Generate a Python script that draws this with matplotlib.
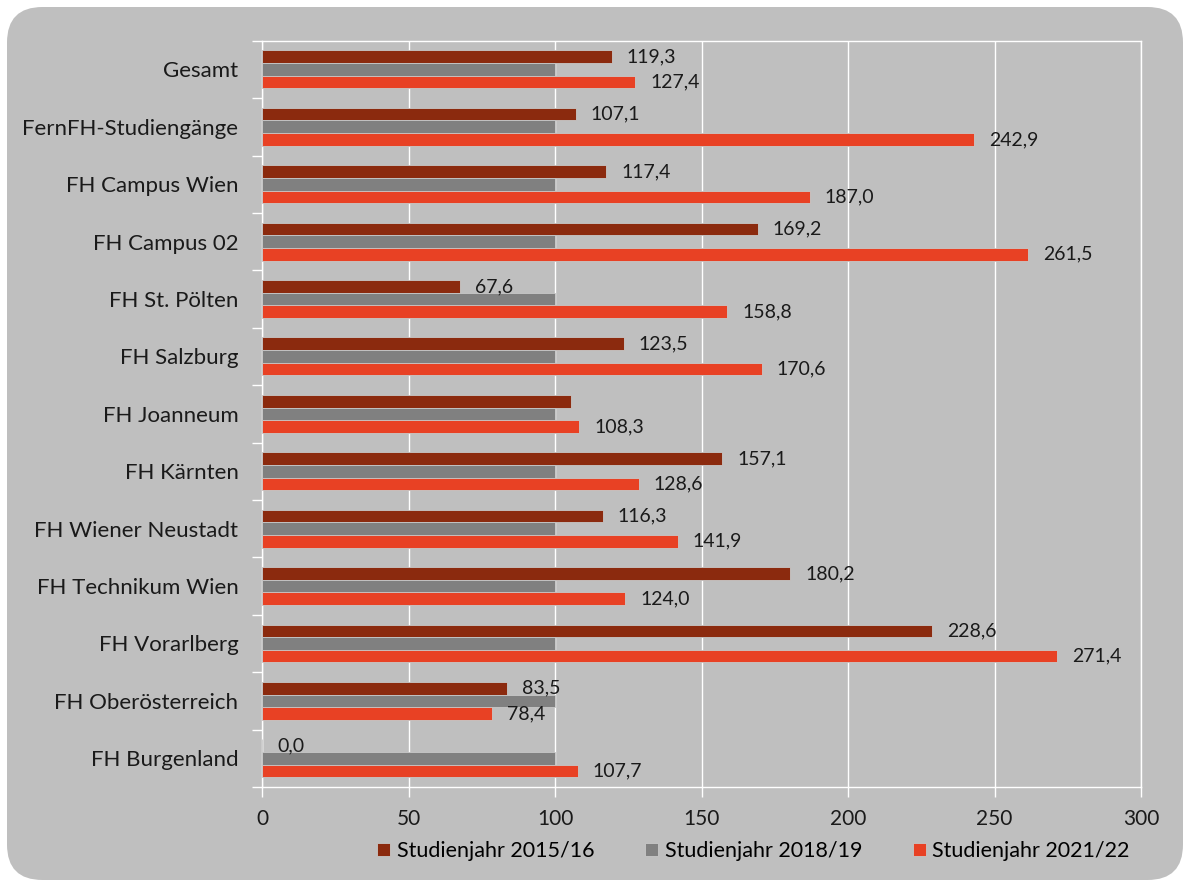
import matplotlib
matplotlib.use("Agg")
import matplotlib.pyplot as plt
from matplotlib.patches import FancyBboxPatch
from matplotlib.ticker import FixedLocator
import numpy as np

categories = ["Gesamt", "FernFH-Studiengänge", "FH Campus Wien", "FH Campus 02",
              "FH St. Pölten", "FH Salzburg", "FH Joanneum", "FH Kärnten",
              "FH Wiener Neustadt", "FH Technikum Wien", "FH Vorarlberg",
              "FH Oberösterreich", "FH Burgenland"]
series_names = ["Studienjahr 2015/16", "Studienjahr 2018/19", "Studienjahr 2021/22"]
v2015 = [119.3, 107.1, 117.4, 169.2, 67.6, 123.5, 105.5, 157.1, 116.3, 180.2, 228.6, 83.5, 0.0]
v2018 = [100.0] * 13
v2021 = [127.4, 242.9, 187.0, 261.5, 158.8, 170.6, 108.3, 128.6, 141.9, 124.0, 271.4, 78.4, 107.7]
# which labels are shown (Joanneum 2015/16 label absent in original)
show2015 = [True] * 6 + [False] + [True] * 6
show2018 = [False] * 13
show2021 = [True] * 13
xticks = [0, 50, 100, 150, 200, 250, 300]

colors = ["#8B2A0E", "#808080", "#E84124"]
plt.rcParams['font.family'] = ['Lato', 'DejaVu Sans']

W, H = 1183, 880
fig = plt.figure(figsize=(W / 100, H / 100), dpi=100)
fig.patch.set_facecolor("white")
bg = FancyBboxPatch((7 / W, 0.0 / H), (W - 7) / W, (H - 7) / H,
                    boxstyle="round,pad=0,rounding_size=0.03",
                    transform=fig.transFigure, facecolor="#BFBFBF",
                    edgecolor="none", mutation_aspect=W / H, zorder=-10)
fig.patches.append(bg)

ax = fig.add_axes([262 / W, 1 - 787 / H, (1141 - 262) / W, (787 - 40.7) / H])
ax.set_zorder(1)
ax.set_facecolor("#BFBFBF")

n = len(categories)
y = np.arange(n)
bh = 0.22
offsets = [-bh, 0, bh]
allvals = [v2015, v2018, v2021]
shows = [show2015, show2018, show2021]
for vals, off, col, show, name in zip(allvals, offsets, colors, shows, series_names):
    ax.barh(y + off, vals, height=bh, color=col, edgecolor="#C8C8C8",
            linewidth=0.6, label=name, zorder=3)
    for yi, v, s in zip(y, vals, show):
        if s:
            ax.annotate(f"{v:.1f}".replace(".", ","), xy=(v, yi + off),
                        xytext=(15, 0), textcoords="offset pixels",
                        va="center", ha="left", fontsize=14, color="#1a1a1a", zorder=5)

ax.set_xlim(0, 300)
ax.set_ylim(n - 0.5, -0.5)
ax.set_xticks(xticks)
ax.set_xticklabels([str(t) for t in xticks], fontsize=15, color="#1a1a1a")
ax.xaxis.grid(True, color="white", linewidth=1.0, zorder=1)
ax.set_axisbelow(True)
ax.tick_params(axis="x", colors="white", length=7, width=1, labelcolor="#1a1a1a", pad=9)

ax.set_yticks(y)
ax.set_yticklabels(categories, fontsize=16, color="#1a1a1a")
ax.yaxis.set_minor_locator(FixedLocator(np.arange(-0.5, n, 1.0)))
ax.tick_params(axis="y", which="major", length=0, pad=17)
ax.tick_params(axis="y", which="minor", length=7, width=1, colors="white")

for s in ax.spines.values():
    s.set_color("white")
    s.set_linewidth(1.0)

leg = fig.legend(loc="center", bbox_to_anchor=(0.637, 1 - 851 / H), ncol=3,
                 frameon=False, fontsize=15.5, handlelength=0.6, handleheight=0.6,
                 handletextpad=0.3, columnspacing=2.37)

fig.savefig("out.png", dpi=100, facecolor=fig.get_facecolor())
